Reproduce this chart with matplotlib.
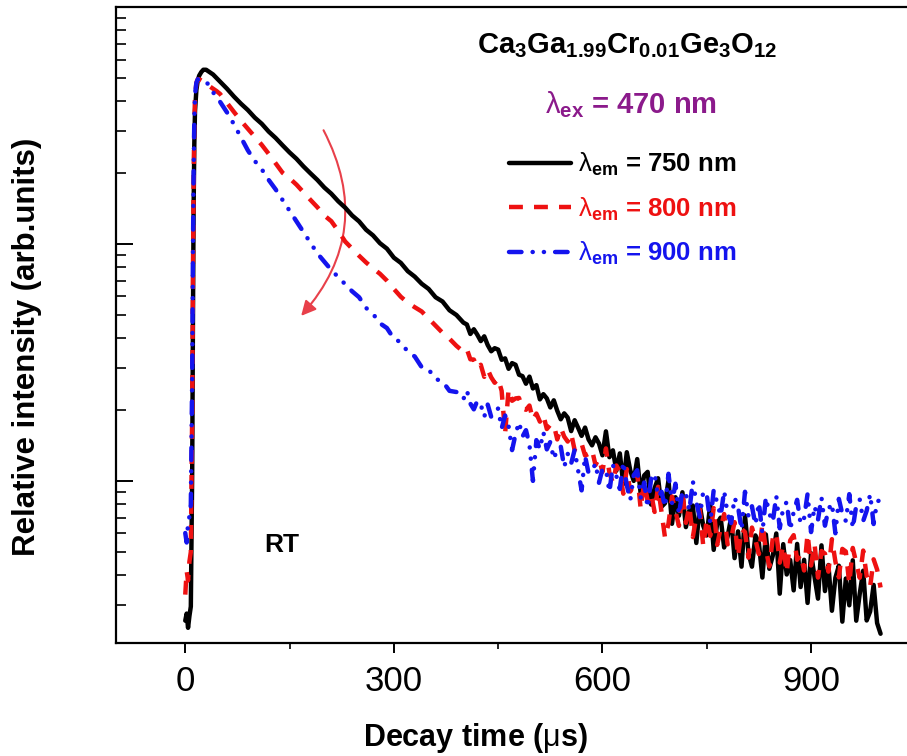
import numpy as np
import matplotlib
matplotlib.use("Agg")
import matplotlib.pyplot as plt
from matplotlib.patches import FancyArrowPatch
from matplotlib.ticker import LogLocator, NullFormatter, MultipleLocator

plt.rcParams['font.family'] = ['Liberation Sans', 'DejaVu Sans']
plt.rcParams['mathtext.fontset'] = 'custom'
plt.rcParams['mathtext.rm'] = 'Liberation Sans'
plt.rcParams['mathtext.bf'] = 'Liberation Sans:bold'
plt.rcParams['mathtext.it'] = 'Liberation Sans:italic'
plt.rcParams['mathtext.default'] = 'rm'
plt.rcParams['lines.scale_dashes'] = False

# ---- data: time axis (µs) ----
t_rise = [0, 2, 4, 6, 8, 10, 11, 12, 13, 14, 16, 18, 20, 23, 26, 30, 35, 40, 45]
t_mid = list(range(50, 401, 10))
t_tail = list(range(405, 1001, 5))
time_us = np.array(t_rise + t_mid + t_tail, dtype=float)

# ---- log10 relative intensity ----
em750_log = [
    0.41, 0.44, 0.38, 0.43, 0.47, 1.05, 1.65, 2.15, 2.42, 2.56, 2.65, 2.69, 2.71, 2.725, 2.735, 2.735, 2.725, 2.715, 2.70,
    2.685, 2.655, 2.622, 2.592, 2.565, 2.533, 2.507, 2.474, 2.447, 2.416, 2.386, 2.359, 2.327, 2.298, 2.27, 2.238, 2.212, 2.18,
    2.153, 2.12, 2.095, 2.06, 2.036, 2.003, 1.98, 1.942, 1.92, 1.885, 1.862, 1.832, 1.81, 1.775, 1.757, 1.72, 1.70, 1.668,
    1.66, 1.62, 1.64, 1.617, 1.59, 1.61, 1.573, 1.547, 1.56, 1.554,
    1.511, 1.517, 1.473, 1.497, 1.49, 1.448, 1.442, 1.41, 1.44, 1.39,
    1.404, 1.344, 1.366, 1.348, 1.31, 1.34, 1.296, 1.26, 1.285, 1.267,
    1.21, 1.256, 1.224, 1.19, 1.225, 1.175, 1.15, 1.184, 1.158, 1.108,
    1.209, 1.100, 1.129, 1.043, 1.116, 0.987, 1.121, 1.044, 1.0, 1.092,
    0.945, 1.023, 1.038, 0.90, 0.969, 1.011, 0.891, 0.906, 1.002, 0.819,
    0.931, 0.853, 0.952, 0.805, 0.875, 0.896, 0.738, 0.896, 0.81, 0.77,
    0.901, 0.709, 0.821, 0.845, 0.719, 0.765, 0.845, 0.674, 0.787, 0.638,
    0.854, 0.696, 0.638, 0.77, 0.738, 0.592, 0.774, 0.629, 0.685, 0.778,
    0.524, 0.733, 0.605, 0.666, 0.538, 0.734, 0.552, 0.667, 0.485, 0.695,
    0.595, 0.503, 0.728, 0.535, 0.645, 0.452, 0.591, 0.642, 0.406, 0.588,
    0.475, 0.665, 0.41, 0.523, 0.621, 0.411, 0.449, 0.561, 0.40, 0.355,
]
em800_log = [
    0.52, 0.62, 0.58, 0.66, 0.70, 1.30, 1.85, 2.25, 2.50, 2.62, 2.68, 2.695, 2.695, 2.69, 2.685, 2.675, 2.665, 2.655, 2.645,
    2.633, 2.595, 2.557, 2.52, 2.486, 2.452, 2.418, 2.38, 2.34, 2.30, 2.277, 2.25, 2.218, 2.186, 2.155, 2.12, 2.096, 2.055,
    2.01, 1.98, 1.95, 1.922, 1.897, 1.874, 1.845, 1.81, 1.777, 1.752, 1.733, 1.715, 1.685, 1.655, 1.625, 1.60, 1.57, 1.545,
    1.556, 1.513, 1.512, 1.476, 1.49, 1.439, 1.47, 1.437, 1.414, 1.432,
    1.38, 1.20, 1.386, 1.338, 1.348, 1.35, 1.306, 1.30, 1.318, 1.258,
    1.284, 1.25, 1.278, 1.219, 1.237, 1.238, 1.175, 1.225, 1.187, 1.166,
    1.20, 1.13, 1.158, 1.157, 1.107, 1.114, 1.131, 1.067, 1.095, 1.038,
    1.137, 1.034, 0.992, 1.065, 1.04, 0.946, 1.05, 0.955, 0.983, 1.033,
    0.881, 0.994, 0.917, 0.946, 0.869, 0.975, 0.867, 0.76, 0.82, 0.934,
    0.873, 0.81, 0.953, 0.823, 0.893, 0.763, 0.85, 0.88, 0.724, 0.839,
    0.768, 0.885, 0.73, 0.80, 0.86, 0.732, 0.756, 0.826, 0.68, 0.797,
    0.784, 0.676, 0.803, 0.752, 0.691, 0.818, 0.711, 0.639, 0.758, 0.781,
    0.655, 0.727, 0.612, 0.749, 0.771, 0.667, 0.69, 0.622, 0.776, 0.643,
    0.734, 0.592, 0.704, 0.693, 0.617, 0.754, 0.66, 0.593, 0.713, 0.702,
    0.566, 0.717, 0.655, 0.591, 0.706, 0.599, 0.554, 0.669, 0.626, 0.55,
]
em900_log = [
    0.78, 0.74, 0.82, 0.85, 0.90, 1.45, 1.95, 2.30, 2.52, 2.63, 2.68, 2.695, 2.695, 2.69, 2.69, 2.685, 2.665, 2.64, 2.62,
    2.60, 2.555, 2.505, 2.45, 2.395, 2.35, 2.315, 2.27, 2.23, 2.185, 2.14, 2.095, 2.05, 2.005, 1.96, 1.925, 1.89, 1.86,
    1.83, 1.80, 1.775, 1.73, 1.705, 1.665, 1.645, 1.60, 1.585, 1.545, 1.525, 1.48, 1.47, 1.43, 1.42, 1.38, 1.375, 1.345,
    1.382, 1.326, 1.302, 1.338, 1.322, 1.27, 1.322, 1.27, 1.282, 1.306,
    1.221, 1.276, 1.231, 1.13, 1.197, 1.248, 1.187, 1.214, 1.153, 1.00,
    1.172, 1.134, 1.206, 1.133, 1.165, 1.092, 1.134, 1.146, 1.058, 1.115,
    1.073, 1.131, 1.044, 0.96, 1.105, 1.033, 1.041, 1.074, 0.992, 1.05,
    1.05, 0.953, 1.068, 1.021, 0.966, 1.08, 0.982, 0.918, 1.024, 1.045,
    0.929, 0.993, 0.887, 1.01, 1.031, 0.933, 0.954, 0.89, 1.03, 0.906,
    0.988, 0.858, 0.957, 0.945, 0.874, 0.999, 0.91, 0.848, 0.956, 0.944,
    0.821, 0.962, 0.907, 0.852, 0.958, 0.86, 0.822, 0.929, 0.891, 0.794,
    0.954, 0.851, 0.893, 0.815, 0.908, 0.779, 0.931, 0.862, 0.827, 0.937,
    0.80, 0.886, 0.911, 0.792, 0.869, 0.92, 0.818, 0.843, 0.945, 0.784,
    0.894, 0.836, 0.93, 0.811, 0.88, 0.906, 0.779, 0.924, 0.86, 0.831,
    0.944, 0.80, 0.896, 0.922, 0.831, 0.874, 0.944, 0.818, 0.913, 0.92,
]

labels = [r'$\lambda_{\mathbf{em}}$ = 750 nm', r'$\lambda_{\mathbf{em}}$ = 800 nm', r'$\lambda_{\mathbf{em}}$ = 900 nm']
colors = ['#000000', '#ee1111', '#1414ee']
x_ticks = [0, 300, 600, 900]

fig = plt.figure(figsize=(9.07, 7.56), dpi=100)
ax = fig.add_axes([0.1276, 0.1495, 0.8724, 0.8413])

series = [em750_log, em800_log, em900_log]
styles = [dict(linestyle='-', solid_capstyle='round', solid_joinstyle='round'),
          dict(dashes=(10, 8), dash_capstyle='butt'),
          dict(dashes=(9, 8, 0.1, 8, 0.1, 8), dash_capstyle='round')]
for vals, lab, c, st in zip(series, labels, colors, styles):
    ax.plot(time_us, 10 ** np.array(vals), color=c, lw=3.2, label=lab, **st)

ax.set_yscale('log')
ax.set_xlim(-100, 1038)
ax.set_ylim(2.07, 1000)
ax.yaxis.set_major_locator(LogLocator(base=10, numticks=10))
ax.yaxis.set_minor_locator(LogLocator(base=10, subs=np.arange(2, 10), numticks=20))
ax.yaxis.set_major_formatter(NullFormatter())
ax.yaxis.set_minor_formatter(NullFormatter())
ax.set_xticks(x_ticks)
ax.xaxis.set_minor_locator(MultipleLocator(150))

for s in ['left', 'bottom', 'top']:
    ax.spines[s].set_linewidth(1.6)
ax.spines['right'].set_visible(False)
ax.tick_params(axis='x', which='major', direction='out', length=7, width=1.4, labelsize=25, pad=9)
ax.tick_params(axis='x', which='minor', direction='out', length=4, width=1.2)
ax.tick_params(axis='y', which='major', direction='in', length=12, width=1.4)
ax.tick_params(axis='y', which='minor', direction='in', length=7, width=1.2)

ax.set_xlabel(r'Decay time ($\mu$s)', fontsize=22, fontweight='bold')
ax.xaxis.set_label_coords(0.455, -0.122)
ax.set_ylabel('Relative intensity (arb.units)', fontsize=22.5, fontweight='bold')
ax.yaxis.set_label_coords(-0.093, 0.465)

ax.text(0.647, 0.94, r'Ca$_\mathbf{3}$Ga$_\mathbf{1.99}$Cr$_\mathbf{0.01}$Ge$_\mathbf{3}$O$_\mathbf{12}$',
        transform=ax.transAxes, fontsize=21, fontweight='bold', ha='center', va='center')
ax.text(0.651, 0.846, r'$\lambda_{\mathbf{ex}}$ = 470 nm', transform=ax.transAxes,
        fontsize=21, fontweight='bold', color='#8b1a8b', ha='center', va='center')
ax.text(0.21, 0.154, 'RT', transform=ax.transAxes, fontsize=19, fontweight='bold', ha='center', va='center')

leg = ax.legend(loc='upper left', bbox_to_anchor=(0.497, 0.774), frameon=False,
                prop={'weight': 'bold', 'size': 18.5}, handlelength=2.4, handletextpad=0.3,
                labelspacing=0.68, borderpad=0, borderaxespad=0)
for txt, c in zip(leg.get_texts(), colors):
    txt.set_color(c)

arrow = FancyArrowPatch((0.261, 0.81), (0.232, 0.511), transform=ax.transAxes,
                        connectionstyle='arc3,rad=-0.35', arrowstyle='-|>',
                        mutation_scale=22, color='#e8404a', lw=1.5)
ax.add_patch(arrow)

fig.savefig('out.png', dpi=100)
